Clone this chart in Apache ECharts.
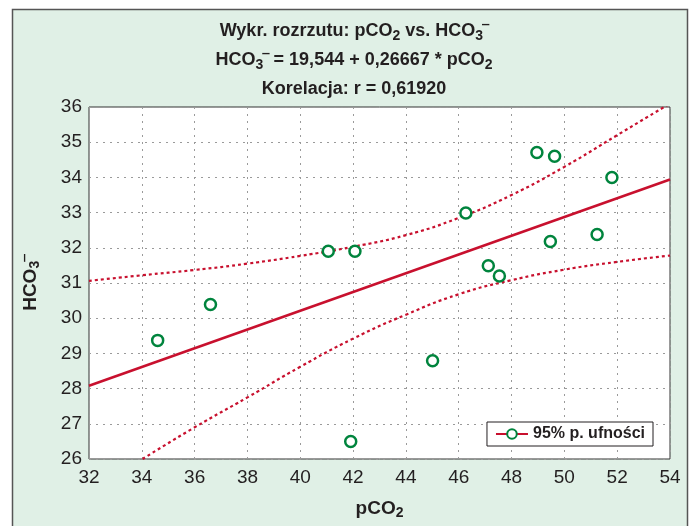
<!DOCTYPE html>
<html>
<head>
<meta charset="utf-8">
<script src="https://cdn.jsdelivr.net/npm/echarts@6/dist/echarts.min.js"></script>
<style>
  html, body { margin: 0; padding: 0; background: #ffffff; }
  #chart { width: 691px; height: 526px; }
</style>
</head>
<body>
<div id="chart"></div>
<script>
// punkty pomiarowe (pCO2, HCO3-)
var pco2 = [34.6, 36.6, 41.06, 42.07, 46.27, 48.96, 49.63, 51.8, 47.12, 47.54, 49.47, 51.24, 45.01, 41.91];
var hco3 = [29.37, 30.39, 31.9, 31.9, 32.99, 34.71, 34.6, 34.0, 31.49, 31.2, 32.18, 32.38, 28.79, 26.5];

// prosta regresji - końce
var fitX = [32, 54];
var fitY = [28.08, 33.94];

// granice 95% przedziału ufności
var upperX = [32, 34, 36, 38, 40, 42, 44, 46, 48, 50, 52, 54];
var upperY = [31.06, 31.22, 31.37, 31.55, 31.77, 32.03, 32.36, 32.85, 33.5, 34.3, 35.2, 36.1];
var lowerX = [34.03, 36, 38, 40, 42, 44, 46, 48, 50, 52, 54];
var lowerY = [26.0, 26.9, 27.75, 28.62, 29.42, 30.1, 30.68, 31.08, 31.38, 31.6, 31.78];

var xTicks = { min: 32, max: 54, interval: 2 };
var yTicks = { min: 26, max: 36, interval: 1 };

var legendName = '95% p. ufności';

function pairs(xs, ys) {
    var out = [];
    for (var i = 0; i < xs.length; i++) {
        out.push([xs[i], ys[i]]);
    }
    return out;
}

var dark = '#231f20';
var red = '#c8102e';
var green = '#00843d';
var font = 'Liberation Sans';

var rich = {
    b: { fontSize: 18, fontWeight: 'bold', color: dark, fontFamily: font, lineHeight: 29 },
    s: { fontSize: 14, fontWeight: 'bold', color: dark, fontFamily: font, verticalAlign: 'bottom', lineHeight: 14, padding: [0, 0, 3, 0] },
    p: { fontSize: 16, fontWeight: 'bold', color: dark, fontFamily: font, verticalAlign: 'top', lineHeight: 16, padding: [8, 0, 0, 0] }
};

var myChart = echarts.init(document.getElementById('chart'));

var option = {
    backgroundColor: '#ffffff',
    animation: false,
    graphic: [
        {
            type: 'rect',
            z: -10,
            shape: { x: 12.5, y: 9.5, width: 675, height: 530 },
            style: { fill: '#e0f0e6', stroke: '#555555', lineWidth: 1.5 }
        }
    ],
    title: {
        left: 349,
        top: 12,
        textAlign: 'center',
        text: '{b|Wykr. rozrzutu: pCO}{s|2}{b| vs. HCO}{s|3}{p|‾}\n' +
              '{b|HCO}{s|3}{p|‾}{b| = 19,544 + 0,26667 * pCO}{s|2}\n' +
              '{b|Korelacja: r = 0,61920}',
        textStyle: { rich: rich }
    },
    legend: {
        right: 38,
        top: 422,
        data: [legendName],
        selectedMode: false,
        backgroundColor: '#ffffff',
        borderColor: dark,
        borderWidth: 1,
        borderRadius: 0,
        padding: [4, 8, 4, 8],
        itemWidth: 32,
        itemHeight: 12,
        itemGap: 6,
        textStyle: { fontSize: 16, fontWeight: 'bold', color: dark, fontFamily: font }
    },
    grid: {
        left: 89,
        right: 21,
        top: 107,
        bottom: 63,
        show: true,
        backgroundColor: '#ffffff',
        borderColor: '#333333',
        borderWidth: 1
    },
    xAxis: {
        type: 'value',
        min: xTicks.min,
        max: xTicks.max,
        interval: xTicks.interval,
        name: '{b|pCO}{s|2}',
        nameLocation: 'middle',
        nameGap: 38,
        nameTextStyle: {
            rich: {
                b: { fontSize: 19, fontWeight: 'bold', color: dark, fontFamily: font, lineHeight: 24 },
                s: { fontSize: 14, fontWeight: 'bold', color: dark, fontFamily: font, verticalAlign: 'bottom', lineHeight: 14, padding: [0, 0, 1, 0] }
            }
        },
        axisLine: { show: false },
        axisTick: { show: false },
        axisLabel: { fontSize: 19, color: dark, fontFamily: font, margin: 9 },
        splitLine: { show: true, lineStyle: { color: '#9a9a9a', type: [2, 5], width: 1 } }
    },
    yAxis: {
        type: 'value',
        min: yTicks.min,
        max: yTicks.max,
        interval: yTicks.interval,
        name: '{b|HCO}{s|3}{p|‾}',
        nameLocation: 'middle',
        nameRotate: 90,
        nameGap: 46,
        nameTextStyle: {
            rich: {
                b: { fontSize: 19, fontWeight: 'bold', color: dark, fontFamily: font, lineHeight: 24 },
                s: { fontSize: 14, fontWeight: 'bold', color: dark, fontFamily: font, verticalAlign: 'bottom', lineHeight: 14, padding: [0, 0, 1, 0] },
                p: { fontSize: 17, fontWeight: 'bold', color: dark, fontFamily: font, verticalAlign: 'top', lineHeight: 17, padding: [5, 0, 0, 0] }
            }
        },
        axisLine: { show: false },
        axisTick: { show: false },
        axisLabel: { fontSize: 19, color: dark, fontFamily: font, margin: 7 },
        splitLine: { show: true, lineStyle: { color: '#9a9a9a', type: [2, 5], width: 1 } }
    },
    series: [
        {
            name: 'upper',
            type: 'line',
            smooth: true,
            showSymbol: false,
            data: pairs(upperX, upperY),
            lineStyle: { color: red, width: 2.2, type: [3, 3] },
            z: 2
        },
        {
            name: 'lower',
            type: 'line',
            smooth: true,
            showSymbol: false,
            data: pairs(lowerX, lowerY),
            lineStyle: { color: red, width: 2.2, type: [3, 3] },
            z: 2
        },
        {
            name: 'fit',
            type: 'line',
            showSymbol: false,
            data: pairs(fitX, fitY),
            lineStyle: { color: red, width: 2.5 },
            z: 3
        },
        {
            name: 'points',
            type: 'scatter',
            symbol: 'circle',
            symbolSize: 11,
            data: pairs(pco2, hco3),
            itemStyle: { color: '#ffffff', borderColor: green, borderWidth: 2.5, opacity: 1 },
            z: 4
        },
        {
            name: legendName,
            type: 'line',
            data: [],
            symbol: 'circle',
            symbolSize: 11,
            lineStyle: { color: red, width: 2.5 },
            itemStyle: { color: '#ffffff', borderColor: green, borderWidth: 2.5 }
        }
    ]
};

myChart.setOption(option);
</script>
</body>
</html>
